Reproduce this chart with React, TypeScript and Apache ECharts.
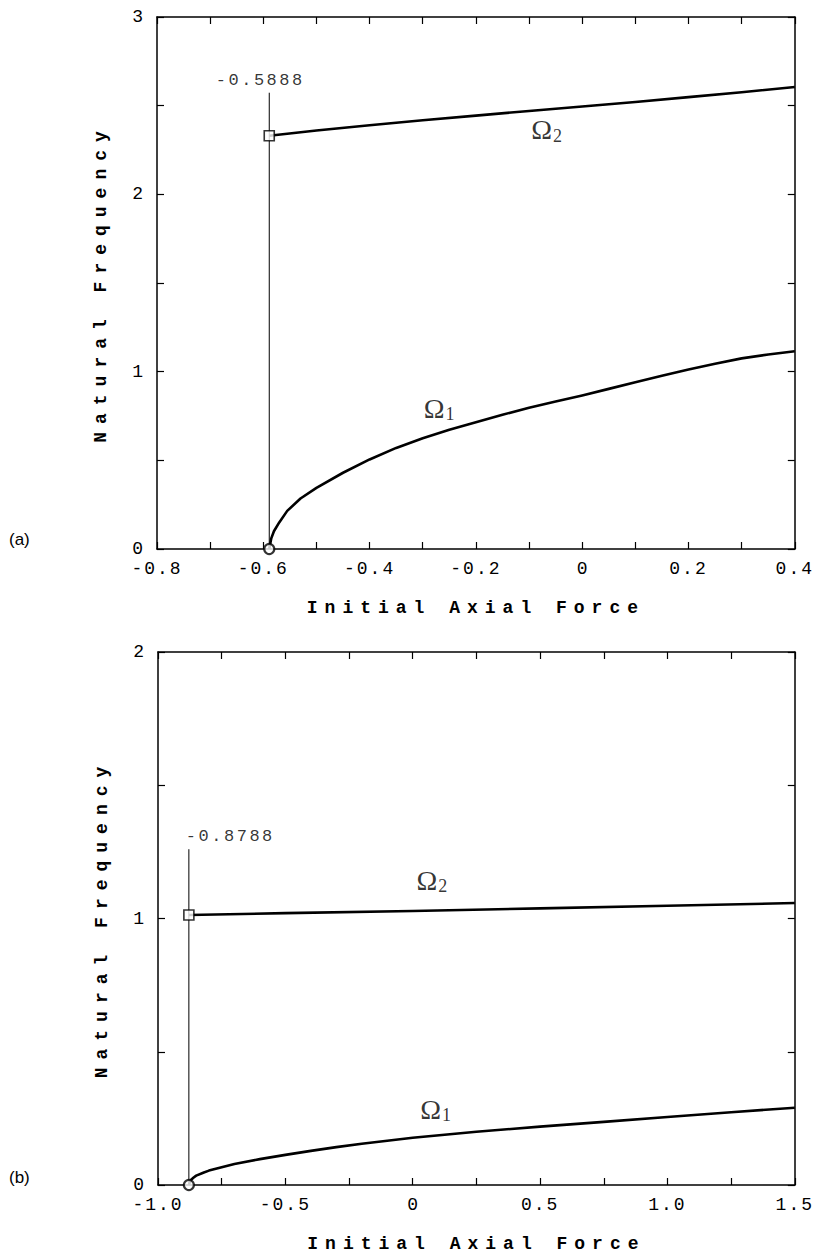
import React, { useEffect, useRef } from "react";
import * as echarts from "echarts";

// ---- data: panel (a) ----
const topOmega1X = [-0.5888, -0.585, -0.58, -0.57, -0.555, -0.53, -0.5, -0.45, -0.4, -0.35, -0.3, -0.25, -0.2, -0.15, -0.1, -0.05, 0, 0.05, 0.1, 0.15, 0.2, 0.25, 0.3, 0.35, 0.4];
const topOmega1Y = [0, 0.06, 0.1, 0.15, 0.215, 0.285, 0.345, 0.43, 0.505, 0.57, 0.625, 0.672, 0.715, 0.757, 0.797, 0.832, 0.866, 0.903, 0.94, 0.977, 1.012, 1.045, 1.075, 1.097, 1.115];
const topOmega2X = [-0.5888, -0.5, -0.4, -0.3, -0.2, -0.1, 0, 0.1, 0.2, 0.3, 0.4];
const topOmega2Y = [2.33, 2.36, 2.39, 2.418, 2.444, 2.47, 2.495, 2.521, 2.548, 2.576, 2.605];
const topCritical = -0.5888;
const topGuideTop = 2.573;
const topXTicks = ["-0.8", "-0.6", "-0.4", "-0.2", "0", "0.2", "0.4"];
const topYTicks = ["0", "1", "2", "3"];
const topOmega1Label = [-0.269, 0.795];
const topOmega2Label = [-0.067, 2.363];

// ---- data: panel (b) ----
const botOmega1X = [-0.8788, -0.875, -0.87, -0.86, -0.85, -0.82, -0.8, -0.75, -0.7, -0.6, -0.5, -0.4, -0.3, -0.2, -0.1, 0, 0.25, 0.5, 0.75, 1.0, 1.25, 1.5];
const botOmega1Y = [0, 0.012, 0.02, 0.028, 0.035, 0.047, 0.054, 0.067, 0.079, 0.097, 0.113, 0.128, 0.142, 0.155, 0.166, 0.177, 0.2, 0.219, 0.237, 0.255, 0.273, 0.29];
const botOmega2X = [-0.8788, -0.5, 0, 0.5, 1.0, 1.5];
const botOmega2Y = [1.013, 1.02, 1.028, 1.038, 1.048, 1.058];
const botCritical = -0.8788;
const botGuideTop = 1.26;
const botXTicks = ["-1.0", "-0.5", "0", "0.5", "1.0", "1.5"];
const botYTicks = ["0", "1", "2"];
const botOmega1Label = [0.09, 0.285];
const botOmega2Label = [0.075, 1.144];

const MONO = "Liberation Mono";
const SERIF = "Liberation Serif";
const AXIS_NAME_X = "Initial Axial Force";
const AXIS_NAME_Y = "Natural Frequency";

const zip = (xs: number[], ys: number[]) => xs.map((x, i) => [x, ys[i]]);

function makeAxisPair(
  kind: "x" | "y",
  gridIndex: number,
  min: number,
  max: number,
  interval: number,
  ticks: string[],
  main: any
) {
  const line = { lineStyle: { color: "#000", width: 1.5 } };
  const tick = { show: true, inside: true, length: 7, lineStyle: { color: "#000", width: 1.2 } };
  const minor = { show: true, splitNumber: 2, length: 7, lineStyle: { color: "#000", width: 1.2 } };
  const base = {
    type: "value",
    gridIndex,
    min,
    max,
    interval,
    axisLine: { show: true, onZero: false, ...line },
    axisTick: tick,
    minorTick: minor,
    splitLine: { show: false },
    minorSplitLine: { show: false },
  };
  const primary = {
    ...base,
    position: kind === "x" ? "bottom" : "left",
    axisLabel: {
      show: true,
      color: "#000",
      fontFamily: MONO,
      fontSize: 18,
      margin: kind === "x" ? 11 : 14,
      formatter: (v: number) => ticks[Math.round((v - min) / interval)] ?? "",
    },
    ...main,
  };
  const secondary = {
    ...base,
    position: kind === "x" ? "top" : "right",
    axisLabel: { show: false },
  };
  return [primary, secondary];
}

function omegaLabel(pos: number[], sub: string, xi: number, yi: number) {
  return {
    type: "scatter",
    xAxisIndex: xi,
    yAxisIndex: yi,
    symbolSize: 0,
    silent: true,
    clip: false,
    data: [pos],
    label: {
      show: true,
      position: "inside",
      formatter: "{o|\u03A9}{s|" + sub + "}",
      rich: {
        o: { fontFamily: SERIF, fontSize: 28, color: "#000" },
        s: { fontFamily: SERIF, fontSize: 18, color: "#000", padding: [12, 0, 0, 1] },
      },
    },
  };
}

function panelSeries(
  xi: number,
  yi: number,
  o1x: number[],
  o1y: number[],
  o2x: number[],
  o2y: number[],
  crit: number,
  guideTop: number,
  l1: number[],
  l2: number[],
  guideAlign: "center" | "left",
  guideOffset: number[]
) {
  const curve = (xs: number[], ys: number[]) => ({
    type: "line",
    xAxisIndex: xi,
    yAxisIndex: yi,
    data: zip(xs, ys),
    showSymbol: false,
    symbol: "none",
    smooth: false,
    lineStyle: { color: "#000", width: 2.6, join: "round" },
    z: 3,
  });
  return [
    {
      type: "line",
      xAxisIndex: xi,
      yAxisIndex: yi,
      data: [
        [crit, 0],
        [crit, guideTop],
      ],
      showSymbol: false,
      symbol: "none",
      lineStyle: { color: "#000", width: 1 },
      z: 2,
    },
    curve(o1x, o1y),
    curve(o2x, o2y),
    {
      type: "scatter",
      xAxisIndex: xi,
      yAxisIndex: yi,
      clip: false,
      symbol: "circle",
      symbolSize: 10,
      itemStyle: { color: "#fff", borderColor: "#000", borderWidth: 2.2 },
      data: [[o1x[0], o1y[0]]],
      z: 5,
    },
    {
      type: "scatter",
      xAxisIndex: xi,
      yAxisIndex: yi,
      clip: false,
      symbol: "rect",
      symbolSize: 10,
      itemStyle: { color: "#fff", borderColor: "#000", borderWidth: 1.6 },
      data: [[o2x[0], o2y[0]]],
      z: 5,
    },
    {
      type: "scatter",
      xAxisIndex: xi,
      yAxisIndex: yi,
      clip: false,
      symbolSize: 0,
      silent: true,
      data: [[crit, guideTop]],
      label: {
        show: true,
        position: "top",
        distance: 4,
        align: guideAlign,
        offset: guideOffset,
        formatter: crit.toFixed(4),
        color: "#000",
        fontFamily: MONO,
        fontSize: 17,
      },
    },
    omegaLabel(l1, "1", xi, yi),
    omegaLabel(l2, "2", xi, yi),
  ];
}

export default function App() {
  const ref = useRef<HTMLDivElement>(null);

  useEffect(() => {
    document.body.style.margin = "0";
    if (!ref.current) return;
    const chart = echarts.init(ref.current, undefined, { renderer: "svg" });

    const nameStyle = { color: "#000", fontFamily: MONO, fontSize: 18, fontWeight: "bold" };

    const [x0, x1] = makeAxisPair("x", 0, -0.8, 0.4, 0.2, topXTicks, {
      name: AXIS_NAME_X,
      nameLocation: "middle",
      nameGap: 50,
      nameTextStyle: nameStyle,
    });
    const [y0, y1] = makeAxisPair("y", 0, 0, 3, 1, topYTicks, {
      name: AXIS_NAME_Y,
      nameLocation: "middle",
      nameGap: 47,
      nameRotate: 90,
      nameTextStyle: nameStyle,
    });
    const [x2, x3] = makeAxisPair("x", 1, -1.0, 1.5, 0.5, botXTicks, {
      name: AXIS_NAME_X,
      nameLocation: "middle",
      nameGap: 50,
      nameTextStyle: nameStyle,
    });
    const [y2, y3] = makeAxisPair("y", 1, 0, 2, 1, botYTicks, {
      name: AXIS_NAME_Y,
      nameLocation: "middle",
      nameGap: 47,
      nameRotate: 90,
      nameTextStyle: nameStyle,
    });

    chart.setOption({
      animation: false,
      backgroundColor: "#fff",
      grid: [
        { left: 157, right: 17, top: 17, height: 532 },
        { left: 158, right: 19, top: 652, height: 533 },
      ],
      xAxis: [x0, x1, x2, x3],
      yAxis: [y0, y1, y2, y3],
      graphic: [
        {
          type: "text",
          left: 9,
          top: 531,
          style: { text: "(a)", fontFamily: "Liberation Sans", fontSize: 17, fill: "#000" },
        },
        {
          type: "text",
          left: 9,
          top: 1169,
          style: { text: "(b)", fontFamily: "Liberation Sans", fontSize: 17, fill: "#000" },
        },
      ],
      series: [
        ...panelSeries(0, 0, topOmega1X, topOmega1Y, topOmega2X, topOmega2Y, topCritical, topGuideTop, topOmega1Label, topOmega2Label, "center", [-9, 0]),
        ...panelSeries(2, 2, botOmega1X, botOmega1Y, botOmega2X, botOmega2Y, botCritical, botGuideTop, botOmega1Label, botOmega2Label, "left", [-3, 0]),
      ],
    });

    const spaced: Record<string, number> = {
      [AXIS_NAME_X]: 7,
      [AXIS_NAME_Y]: 8,
      [topCritical.toFixed(4)]: 2.5,
      [botCritical.toFixed(4)]: 2.5,
    };
    [...topXTicks, ...botXTicks].forEach((t) => {
      if (t.length > 1) spaced[t] = 2;
    });
    const applySpacing = () => {
      const root = ref.current;
      if (!root) return;
      root.querySelectorAll("text").forEach((el) => {
        const s = spaced[(el.textContent || "").trim()];
        if (s !== undefined) el.style.letterSpacing = s + "px";
      });
    };
    chart.on("finished", applySpacing);
    applySpacing();
    const t = window.setTimeout(applySpacing, 50);

    return () => {
      window.clearTimeout(t);
      chart.dispose();
    };
  }, []);

  return <div ref={ref} style={{ width: 814, height: 1257 }} />;
}
